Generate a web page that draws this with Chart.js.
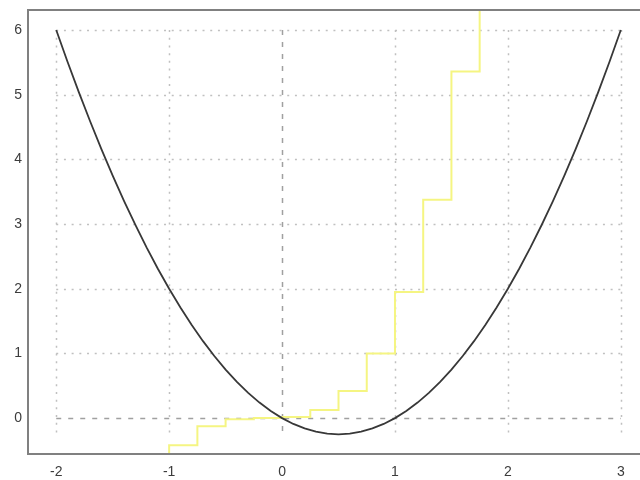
<!DOCTYPE html>
<html>
<head>
<meta charset="utf-8">
<script src="https://cdn.jsdelivr.net/npm/chart.js@4"></script>
<style>
  body { margin: 0; background: #fff; }
  canvas { display: block; }
</style>
</head>
<body>
<canvas id="plot" width="640" height="480"></canvas>
<script>
// Ticks shown on both axes
const xTicks = [-2, -1, 0, 1, 2, 3];
const yTicks = [0, 1, 2, 3, 4, 5, 6];

// Parabola sampled every 0.1
const curveX = [-2.0, -1.9, -1.8, -1.7, -1.6, -1.5, -1.4, -1.3, -1.2, -1.1,
  -1.0, -0.9, -0.8, -0.7, -0.6, -0.5, -0.4, -0.3, -0.2, -0.1,
  0.0, 0.1, 0.2, 0.3, 0.4, 0.5, 0.6, 0.7, 0.8, 0.9,
  1.0, 1.1, 1.2, 1.3, 1.4, 1.5, 1.6, 1.7, 1.8, 1.9,
  2.0, 2.1, 2.2, 2.3, 2.4, 2.5, 2.6, 2.7, 2.8, 2.9, 3.0];
const curveY = [6.00, 5.51, 5.04, 4.59, 4.16, 3.75, 3.36, 2.99, 2.64, 2.31,
  2.00, 1.71, 1.44, 1.19, 0.96, 0.75, 0.56, 0.39, 0.24, 0.11,
  0.00, -0.09, -0.16, -0.21, -0.24, -0.25, -0.24, -0.21, -0.16, -0.09,
  0.00, 0.11, 0.24, 0.39, 0.56, 0.75, 0.96, 1.19, 1.44, 1.71,
  2.00, 2.31, 2.64, 2.99, 3.36, 3.75, 4.16, 4.59, 5.04, 5.51, 6.00];

// Staircase: each value holds from its x to the next x
const stepX = [-1.25, -1.0, -0.75, -0.5, -0.25, 0.0, 0.25, 0.5, 0.75, 1.0, 1.25, 1.5, 1.75];
const stepY = [-1.0, -0.42, -0.125, -0.016, 0.0, 0.016, 0.125, 0.42, 1.0, 1.95, 3.375, 5.36, 8.0];

// Extent of the grid and of the visible axes
const gridX = [-2, 3];
const gridY = [-0.25, 6];
const viewX = [-2.25, 3.17];
const viewY = [-0.555, 6.31];

const toPoints = (xs, ys) => xs.map((v, i) => ({ x: v, y: ys[i] }));

// Grid only inside the data range, plus the open frame (left, top, bottom)
const plotGrid = {
  id: 'plotGrid',
  beforeDatasetsDraw(chart) {
    const { ctx, scales: { x, y } } = chart;
    ctx.save();
    xTicks.forEach(v => {
      const px = Math.round(x.getPixelForValue(v)) + 0.5;
      setStyle(ctx, v === 0);
      ctx.beginPath();
      ctx.moveTo(px, y.getPixelForValue(gridY[1]));
      ctx.lineTo(px, y.getPixelForValue(gridY[0]));
      ctx.stroke();
    });
    yTicks.forEach(v => {
      const py = Math.round(y.getPixelForValue(v)) + 0.5;
      setStyle(ctx, v === 0);
      ctx.beginPath();
      ctx.moveTo(x.getPixelForValue(gridX[0]), py);
      ctx.lineTo(x.getPixelForValue(gridX[1]), py);
      ctx.stroke();
    });
    ctx.restore();
  },
  afterDraw(chart) {
    const { ctx, chartArea: a } = chart;
    ctx.save();
    ctx.strokeStyle = '#808080';
    ctx.lineWidth = 2;
    ctx.setLineDash([]);
    ctx.beginPath();
    ctx.moveTo(a.right, a.top);
    ctx.lineTo(a.left, a.top);
    ctx.lineTo(a.left, a.bottom);
    ctx.lineTo(a.right, a.bottom);
    ctx.stroke();
    ctx.restore();
  }
};

function setStyle(ctx, dashed) {
  if (dashed) {
    ctx.strokeStyle = '#a0a0a0';
    ctx.lineWidth = 1.5;
    ctx.setLineDash([5, 7]);
  } else {
    ctx.strokeStyle = '#c0c0c0';
    ctx.lineWidth = 1.5;
    ctx.setLineDash([2, 5.7]);
  }
}

const tickFont = { family: 'Liberation Sans, Arial, sans-serif', size: 14 };

new Chart(document.getElementById('plot'), {
  type: 'line',
  data: {
    datasets: [{
      data: toPoints(curveX, curveY),
      borderColor: '#383838',
      borderWidth: 1.8,
      pointRadius: 0,
      tension: 0,
      fill: false
    }, {
      data: toPoints(stepX, stepY),
      borderColor: '#f5f582',
      borderWidth: 2,
      pointRadius: 0,
      stepped: 'before',
      fill: false
    }]
  },
  options: {
    responsive: false,
    animation: false,
    layout: { padding: { top: 10, left: 0, right: 0, bottom: 0 } },
    plugins: { legend: { display: false }, tooltip: { enabled: false } },
    scales: {
      x: {
        type: 'linear',
        min: viewX[0],
        max: viewX[1],
        grid: { display: false, drawTicks: false },
        border: { display: false },
        afterBuildTicks: s => { s.ticks = xTicks.map(v => ({ value: v })); },
        afterFit: s => { s.height = 26; s.paddingLeft = 0; s.paddingRight = 0; },
        ticks: {
          autoSkip: false,
          maxRotation: 0,
          padding: 10,
          color: '#3c3c3c',
          font: tickFont,
          callback: v => String(v)
        }
      },
      y: {
        type: 'linear',
        min: viewY[0],
        max: viewY[1],
        grid: { display: false, drawTicks: false },
        border: { display: false },
        afterBuildTicks: s => { s.ticks = yTicks.map(v => ({ value: v })); },
        afterFit: s => { s.width = 28; s.paddingTop = 0; s.paddingBottom = 0; },
        ticks: {
          autoSkip: false,
          padding: 6,
          color: '#3c3c3c',
          font: tickFont,
          callback: v => String(v)
        }
      }
    }
  },
  plugins: [plotGrid]
});
</script>
</body>
</html>
